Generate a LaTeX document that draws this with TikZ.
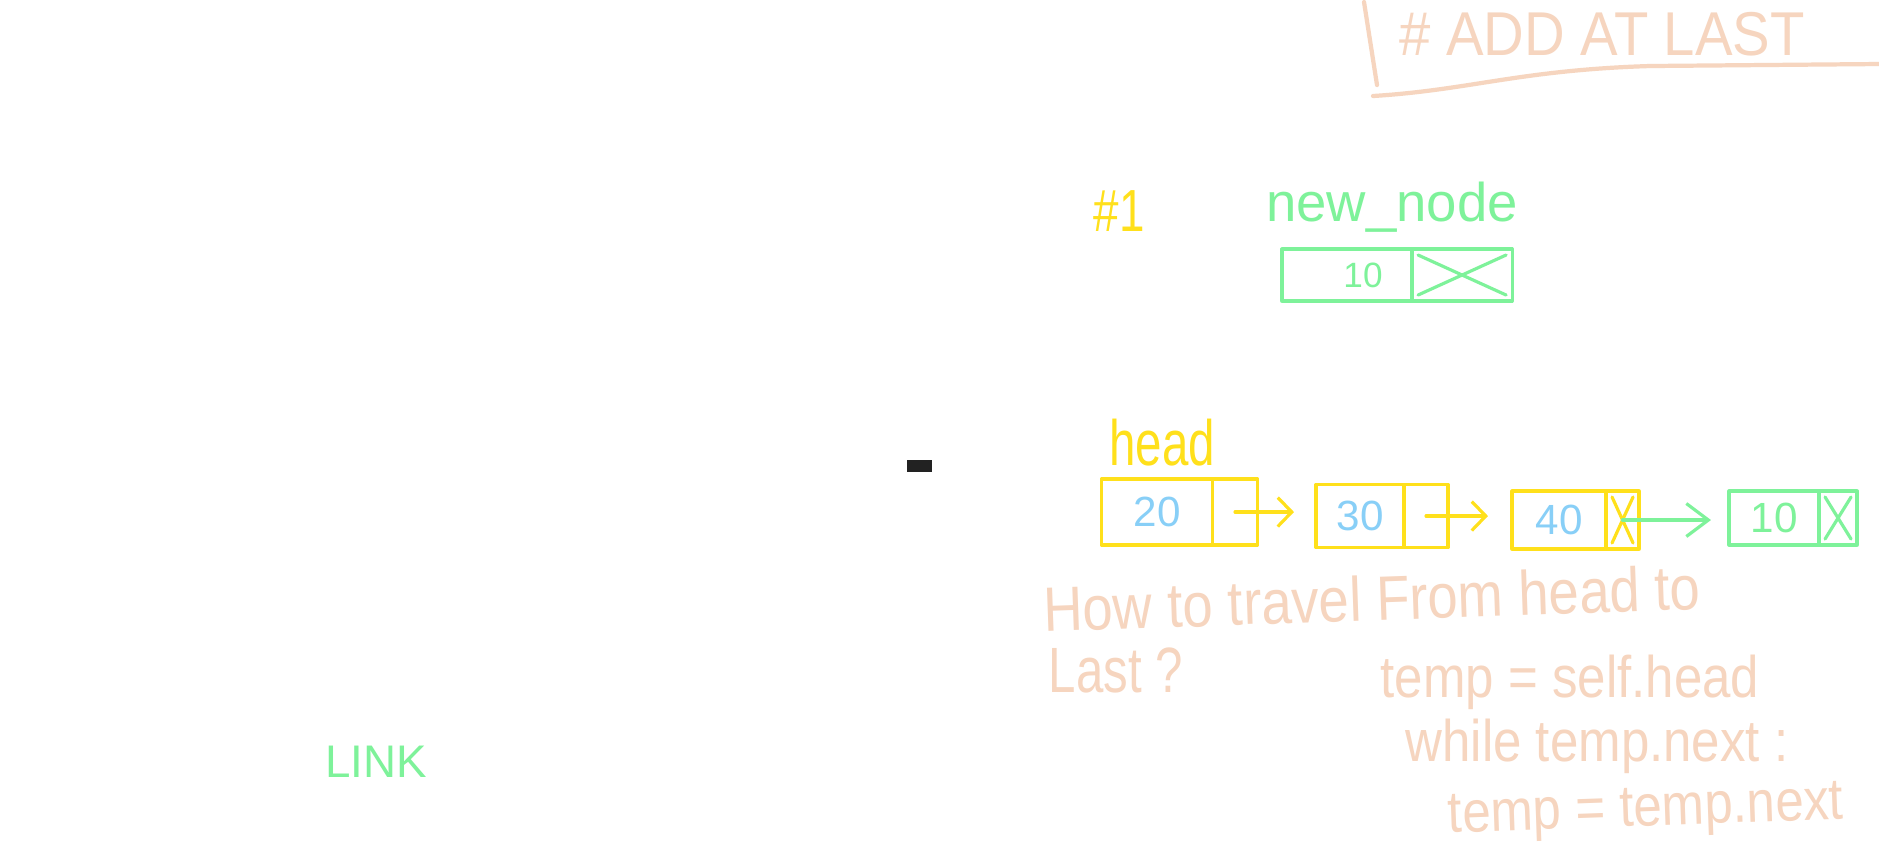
\documentclass[tikz,border=0pt]{standalone}
\usepackage{graphicx}
\usepackage{fontspec}
\setmainfont{Liberation Sans}
\usetikzlibrary{arrows.meta,positioning}
\definecolor{marker}{HTML}{FFE01B}
\definecolor{sky}{HTML}{88CFF7}
\definecolor{mint}{HTML}{7EF29A}
\definecolor{peach}{HTML}{F6D5BF}
\definecolor{ink}{HTML}{222222}
\newcommand{\tallt}[2]{\scalebox{1}[#1]{#2}}

\begin{document}
\begin{tikzpicture}[
  x=0.01cm, y=-0.01cm,
  stroke/.style={line width=0.9pt, line cap=round, line join=round},
  datacell/.style={stroke, draw=marker, inner sep=0pt, outer sep=0pt, text=sky,
                   font=\fontsize{12}{13}\selectfont},
  ptrcell/.style={stroke, draw=marker, inner sep=0pt, outer sep=0pt},
  nullx/.style={path picture={
      \draw[stroke, draw=#1]
        ([shift={(0.6mm,-0.6mm)}]path picture bounding box.north west) --
        ([shift={(-0.6mm,0.6mm)}]path picture bounding box.south east)
        ([shift={(-0.6mm,-0.6mm)}]path picture bounding box.north east) --
        ([shift={(0.6mm,0.6mm)}]path picture bounding box.south west);}},
  link/.style={stroke, draw=marker, -{Straight Barb[length=1.4mm,width=2.9mm]},
               shorten >=2.2mm},
  hand/.style={inner sep=0pt, text=peach},
  code/.style={hand, font=\fontsize{14.5}{16}\selectfont}
]
\path[fill=white, use as bounding box] (0,0) rectangle (1879,847);

% title
\node[hand, font=\fontsize{16}{18}\selectfont] (title) at (1602,34) {\tallt{1.1}{\# ADD AT LAST}};
\draw[stroke, draw=peach, line width=1.2pt] (1364,2) -- (1377,85);
\draw[stroke, draw=peach, line width=1.2pt] (1373,96) .. controls (1470,90) and (1520,70) .. (1650,66) -- (1879,64);

% step 1: new node
\node[inner sep=0pt, text=marker, font=\fontsize{13}{14}\selectfont] (step1) at (1119,211) {\tallt{1.3}{\#1}};
\node[inner sep=0pt, text=mint, font=\fontsize{15.5}{16}\selectfont] (nnlabel) at (1392,207) {new\_node};
\node[datacell, draw=mint, text=mint, font=\fontsize{10}{11}\selectfont,
      minimum width=13mm, minimum height=5.2mm] (nd) at (1347,275) {\hspace*{3.2mm}10};
\node[ptrcell, draw=mint, nullx=mint, minimum width=10mm, minimum height=5.2mm,
      right=0pt of nd] (np) {};

% linked list
\node[inner sep=0pt, text=marker, font=\fontsize{13.5}{14}\selectfont] (head) at (1162,443) {\tallt{1.35}{head}};
\node[datacell, minimum width=11.1mm, minimum height=6.6mm] (d20) at (1157,512) {20};
\node[ptrcell, minimum width=4.5mm, minimum height=6.6mm, right=0pt of d20] (p20) {};
\node[datacell, minimum width=8.8mm, minimum height=6.3mm] (d30) at (1360,516) {30};
\node[ptrcell, minimum width=4.4mm, minimum height=6.3mm, right=0pt of d30] (p30) {};
\node[datacell, minimum width=9.4mm, minimum height=5.8mm] (d40) at (1559,520) {40};
\node[ptrcell, nullx=marker, minimum width=3.3mm, minimum height=5.8mm, right=0pt of d40] (p40) {};
\node[datacell, draw=mint, text=mint, minimum width=9mm, minimum height=5.4mm] (d10) at (1774,518) {10};
\node[ptrcell, draw=mint, nullx=mint, minimum width=3.8mm, minimum height=5.4mm, right=0pt of d10] (p10) {};

\draw[link] (p20.center) -- (p20.center -| d30.west);
\draw[link, shorten >=2.4mm] (p30.center) -- (p30.center -| d40.west);
\draw[link, draw=mint, shorten >=1.8mm, -{Straight Barb[length=2.2mm,width=3.3mm]}]
  (p40.center) -- (p40.center -| d10.west);

% traversal notes
\node[hand, rotate=2, font=\fontsize{15.5}{18}\selectfont] (question) at (1372,598)
  {\tallt{1.15}{How to travel From head to}};
\node[hand, font=\fontsize{14}{16}\selectfont] (lastq) at (1116,670) {\tallt{1.3}{Last ?}};
\node[code] (line1) at (1570,682) {\tallt{1.15}{temp = self.head}};
\node[code] (line2) at (1597,746) {\tallt{1.15}{while temp.next :}};
\node[code, rotate=2] (line3) at (1646,813) {\tallt{1.15}{temp = temp.next}};

% left side
\node[inner sep=0pt, text=mint, font=\fontsize{13}{14}\selectfont] (linkword) at (376,762) {LINK};
\node[fill=ink, minimum width=2.5mm, minimum height=1.2mm, inner sep=0pt] (mark) at (919,466) {};

\end{tikzpicture}
\end{document}
